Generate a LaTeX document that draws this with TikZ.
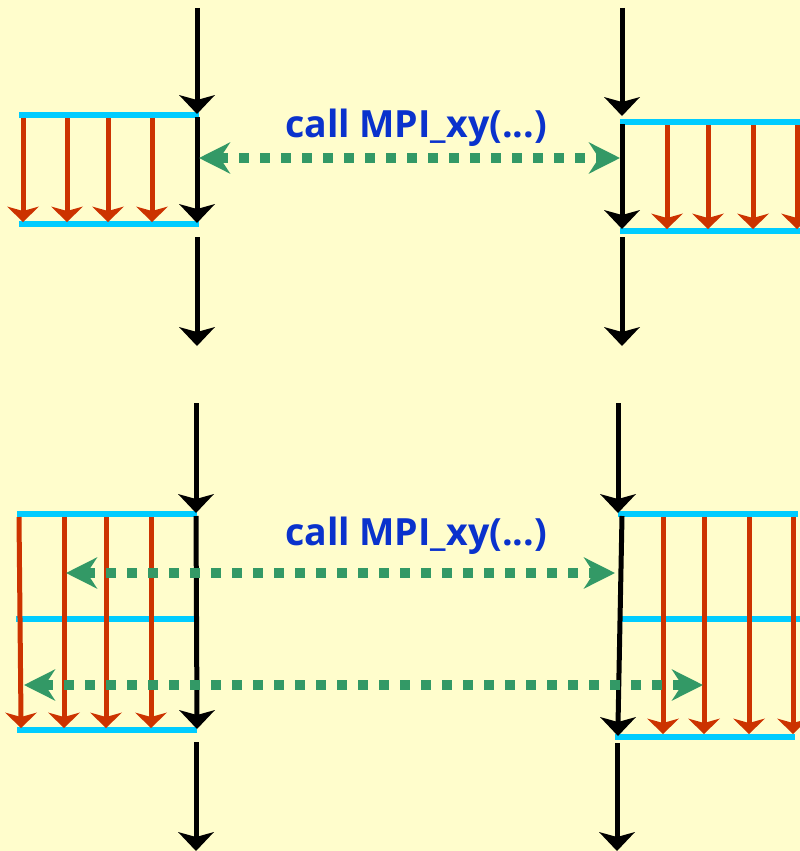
\documentclass[tikz,border=0pt]{standalone}
\usepackage{fontspec}
\setmainfont{Open Sans}
\usetikzlibrary{arrows.meta}
\definecolor{bgy}{RGB}{255,253,204}
\definecolor{cyanl}{RGB}{0,204,255}
\definecolor{redl}{RGB}{204,51,0}
\definecolor{greenl}{RGB}{51,153,102}
\definecolor{bluet}{RGB}{10,50,204}
\tikzset{
  blkline/.style={line width=5pt, black},
  redline/.style={line width=5pt, redl},
  btip/.pic={\fill[black] (0,0) -- (-18,-19) -- (0,-14) -- (18,-19) -- cycle;},
  rtip/.pic={\fill[redl] (0,0) -- (-16,-15.5) -- (0,-11) -- (16,-15.5) -- cycle;},
  cyanbar/.style={line width=6pt, cyanl},
  greenarr/.style={line width=10pt, greenl, dash pattern=on 10pt off 11pt,
    {Stealth[length=31pt,width=31pt,inset=10pt]}-{Stealth[length=31pt,width=31pt,inset=10pt]}},
  calltext/.style={text=bluet, font=\fontsize{37.5}{40}\selectfont\bfseries, inner sep=0pt, anchor=base}
}
\newcommand{\blkarr}[4]{\draw[blkline] (#1,#2) -- (#3,#4-11); \pic at (#3,#4) {btip};}
\newcommand{\redarr}[4]{\draw[redline] (#1,#2) -- (#3,#4-9); \pic at (#3,#4) {rtip};}
\begin{document}
\begin{tikzpicture}[x=1pt,y=-1pt]
\fill[bgy] (0,0) rectangle (800,851);
\useasboundingbox (0,0) rectangle (800,851);
% ---------- top panel ----------
\draw[cyanbar] (19,115) -- (199,115);
\draw[cyanbar] (19,224) -- (199,224);
\foreach \x in {23,67,108,152} {\redarr{\x}{118}{\x}{222}}
\blkarr{197}{8}{197}{114}
\blkarr{197}{117}{197}{223}
\blkarr{197}{237}{197}{346}
\draw[cyanbar] (620,122) -- (800,122);
\draw[cyanbar] (620,231) -- (800,231);
\foreach \x in {667,708,753,797} {\redarr{\x}{125}{\x}{229}}
\blkarr{622}{8}{622}{116}
\blkarr{622}{124}{622}{229}
\blkarr{622}{237}{622}{346}
\draw[greenarr] (199,158) -- (620,158);
\node[calltext] (t1) at (416,137) {call MPI\_xy(...)};
% ---------- bottom panel ----------
\draw[cyanbar] (17,514) -- (197,514);
\draw[cyanbar] (16,619) -- (195,619);
\draw[cyanbar] (17,730) -- (197,730);
\redarr{19}{517}{21}{728}
\foreach \x in {64,106,151} {\redarr{\x}{517}{\x}{728}}
\blkarr{196}{403}{196}{513}
\blkarr{196}{516}{197}{729}
\blkarr{196}{742}{196}{851}
\draw[cyanbar] (618,514) -- (798,514);
\draw[cyanbar] (621,619) -- (800,619);
\draw[cyanbar] (615,737) -- (795,737);
\foreach \x in {663,704,749,793} {\redarr{\x}{517}{\x}{734}}
\blkarr{618}{403}{618}{513}
\blkarr{622}{516}{618}{736}
\blkarr{617}{743}{617}{851}
\draw[greenarr] (66,573) -- (615,573);
\draw[greenarr] (24,685) -- (703,685);
\node[calltext] (t2) at (416,545) {call MPI\_xy(...)};
\end{tikzpicture}
\end{document}
